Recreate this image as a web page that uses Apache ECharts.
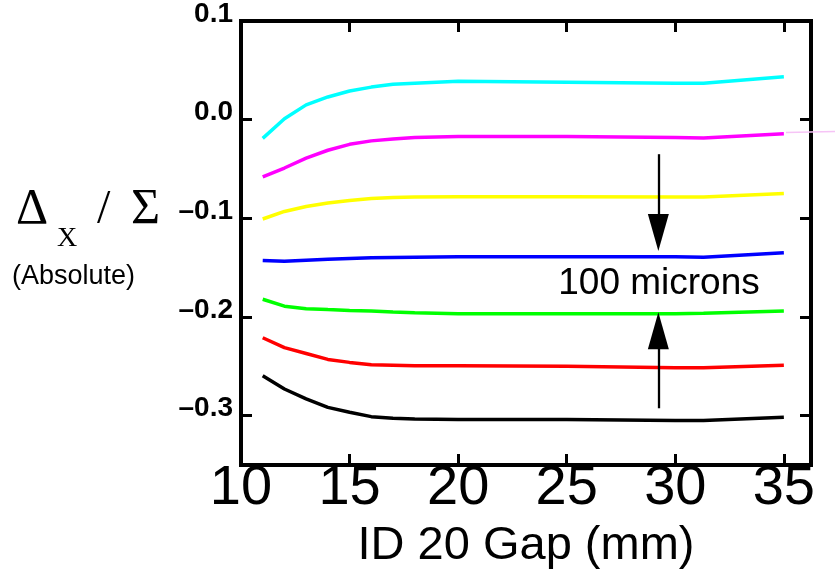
<!DOCTYPE html>
<html>
<head>
<meta charset="utf-8">
<script src="https://cdn.jsdelivr.net/npm/echarts@6/dist/echarts.min.js"></script>
<style>
  html, body { margin: 0; padding: 0; background: #fff; }
  #main { width: 835px; height: 581px; }
</style>
</head>
<body>
<div id="main"></div>
<script>
// gap values (mm) where the curves were read
var gap = [11, 12, 13, 14, 15, 16, 17, 18, 20, 25, 30, 31.3, 35];

var cyanVals    = [-0.019, 0.001, 0.015, 0.023, 0.029, 0.033, 0.036, 0.037, 0.039, 0.038, 0.037, 0.037, 0.0435];
var magentaVals = [-0.058, -0.049, -0.039, -0.031, -0.025, -0.0215, -0.0195, -0.018, -0.017, -0.017, -0.018, -0.0185, -0.0143];
var yellowVals  = [-0.1007, -0.093, -0.088, -0.0845, -0.082, -0.080, -0.079, -0.0785, -0.078, -0.078, -0.0783, -0.0783, -0.0749];
var blueVals    = [-0.1427, -0.1435, -0.1424, -0.1415, -0.1407, -0.140, -0.1397, -0.1394, -0.139, -0.139, -0.139, -0.1395, -0.1348];
var greenVals   = [-0.182, -0.189, -0.1916, -0.1925, -0.1933, -0.194, -0.195, -0.1956, -0.1966, -0.1966, -0.1966, -0.1963, -0.194];
var redVals     = [-0.221, -0.231, -0.237, -0.243, -0.246, -0.2485, -0.249, -0.2495, -0.2495, -0.250, -0.2515, -0.2515, -0.249];
var blackVals   = [-0.2596, -0.273, -0.283, -0.2916, -0.2966, -0.301, -0.3025, -0.3034, -0.304, -0.304, -0.305, -0.305, -0.3015];

var seriesColors = ['#00ffff', '#ff00ff', '#ffff00', '#0000ff', '#00ff00', '#ff0000', '#000000'];
var seriesVals = [cyanVals, magentaVals, yellowVals, blueVals, greenVals, redVals, blackVals];

var yTicks = [-0.3, -0.2, -0.1, 0.0, 0.1];

// "100 microns" arrows: x position, shaft start, arrow head centre
var arrowX = 29.22;
var downArrow = [-0.035, -0.1144];
var upArrow = [-0.2925, -0.2140];

var dom = document.getElementById('main');
var myChart = echarts.init(dom);

function pairs(vals) {
    var out = [];
    for (var i = 0; i < gap.length; i++) {
        out.push([gap[i], vals[i]]);
    }
    return out;
}

function yLabel(v) {
    var r = Math.round(v * 10) / 10;
    if (r === 0) return '0.0';
    return (r < 0 ? '\u2013' : '') + Math.abs(r).toFixed(1);
}

var series = [];
for (var i = 0; i < seriesVals.length; i++) {
    series.push({
        type: 'line',
        data: pairs(seriesVals[i]),
        showSymbol: false,
        symbol: 'none',
        animation: false,
        lineStyle: { color: seriesColors[i], width: 3.5 },
        z: 3
    });
}

// arrows drawn as mark lines on the blue series
series[3].markLine = {
    silent: true,
    animation: false,
    label: { show: false },
    lineStyle: { color: '#000', width: 2.3, type: 'solid' },
    data: [
        [
            { coord: [arrowX, downArrow[0]], symbol: 'none' },
            { coord: [arrowX, downArrow[1]], symbol: 'triangle', symbolSize: [21, 37] }
        ],
        [
            { coord: [arrowX, upArrow[0]], symbol: 'none' },
            { coord: [arrowX, upArrow[1]], symbol: 'triangle', symbolSize: [21, 37] }
        ]
    ]
};

var tickStyle = { show: true, inside: true, length: 11, lineStyle: { color: '#000', width: 3 } };

var option = {
    backgroundColor: '#fff',
    animation: false,
    grid: {
        left: 241, right: 24, top: 19, bottom: 116,
        show: true, borderColor: '#000', borderWidth: 4
    },
    xAxis: [{
        type: 'value',
        position: 'bottom',
        min: 10, max: 36.25, interval: 5,
        axisLine: { show: false, onZero: false },
        splitLine: { show: false },
        axisTick: tickStyle,
        axisLabel: {
            showMaxLabel: false,
            margin: -4,
            color: '#000',
            fontFamily: 'Liberation Sans',
            fontSize: 56
        },
        name: 'ID 20 Gap (mm)',
        nameLocation: 'middle',
        nameGap: 58,
        nameTextStyle: { color: '#000', fontFamily: 'Liberation Sans', fontSize: 47 }
    }, {
        type: 'value',
        position: 'top',
        min: 10, max: 36.25, interval: 5,
        axisLine: { show: false, onZero: false },
        splitLine: { show: false },
        axisTick: tickStyle,
        axisLabel: { show: false }
    }],
    yAxis: [{
        type: 'value',
        position: 'left',
        min: -0.35, max: 0.1,
        axisLine: { show: false, onZero: false },
        splitLine: { show: false },
        axisTick: { show: true, inside: true, length: 11, customValues: yTicks, lineStyle: { color: '#000', width: 3 } },
        axisLabel: {
            customValues: yTicks,
            formatter: yLabel,
            margin: 8,
            verticalAlign: 'bottom',
            lineHeight: 14,
            color: '#000',
            fontWeight: 'bold',
            fontFamily: 'Liberation Sans',
            fontSize: 28
        }
    }, {
        type: 'value',
        position: 'right',
        min: -0.35, max: 0.1,
        axisLine: { show: false, onZero: false },
        splitLine: { show: false },
        axisTick: { show: true, inside: true, length: 11, customValues: yTicks, lineStyle: { color: '#000', width: 3 } },
        axisLabel: { show: false }
    }],
    graphic: [
        { type: 'text', left: 16, top: 185, style: { text: '\u0394', font: '50px "Liberation Serif"', fill: '#000' } },
        { type: 'text', left: 57, top: 225, style: { text: 'X', font: '28px "Liberation Serif"', fill: '#000' } },
        { type: 'text', left: 97, top: 186, style: { text: '/', font: '48px "Liberation Serif"', fill: '#000' } },
        { type: 'text', left: 131, top: 185, style: { text: '\u03a3', font: '50px "Liberation Serif"', fill: '#000' } },
        { type: 'text', left: 12, top: 263, style: { text: '(Absolute)', font: '27px "Liberation Sans"', fill: '#000' } },
        { type: 'text', x: 659, y: 284, style: { text: '100 microns', font: '37px "Liberation Sans"', fill: '#000', align: 'center', verticalAlign: 'middle' } },
        { type: 'line', shape: { x1: 786, y1: 132.5, x2: 835, y2: 131.5 }, style: { stroke: '#f6c4f6', lineWidth: 1.5 } }
    ],
    series: series
};

myChart.setOption(option);
</script>
</body>
</html>
